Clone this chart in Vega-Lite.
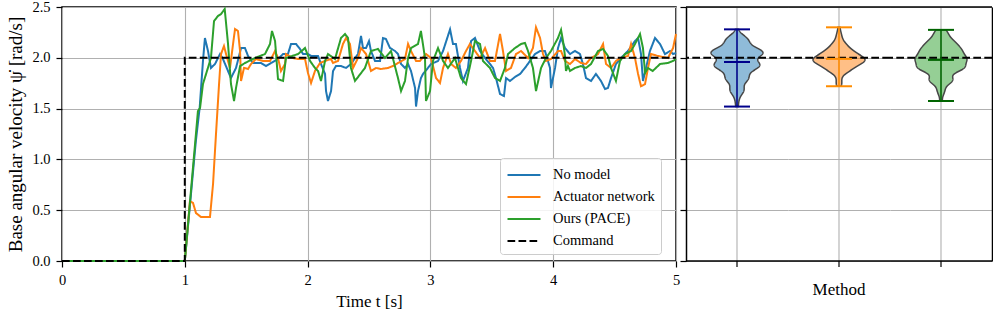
{
  "$schema": "https://vega.github.io/schema/vega-lite/v6.json",
  "background": "white",
  "padding": {"left": 6, "top": -2, "right": 0, "bottom": 2},
  "datasets": {
    "series": [
      {"m":"No model","t":0,"v":0},{"m":"No model","t":1.0,"v":0},{"m":"No model","t":1.09,"v":1.18},{"m":"No model","t":1.121,"v":1.506},{"m":"No model","t":1.148,"v":1.969},{"m":"No model","t":1.164,"v":2.195},{"m":"No model","t":1.189,"v":2.067},{"m":"No model","t":1.213,"v":1.9},{"m":"No model","t":1.246,"v":1.939},{"m":"No model","t":1.287,"v":2.037},{"m":"No model","t":1.311,"v":1.988},{"m":"No model","t":1.352,"v":1.87},{"m":"No model","t":1.376,"v":1.801},{"m":"No model","t":1.417,"v":1.9},{"m":"No model","t":1.458,"v":2.096},{"m":"No model","t":1.49,"v":2.096},{"m":"No model","t":1.515,"v":2.018},{"m":"No model","t":1.555,"v":1.949},{"m":"No model","t":1.621,"v":1.949},{"m":"No model","t":1.661,"v":1.919},{"m":"No model","t":1.702,"v":1.949},{"m":"No model","t":1.759,"v":1.988},{"m":"No model","t":1.8,"v":2.037},{"m":"No model","t":1.84,"v":2.037},{"m":"No model","t":1.865,"v":2.136},{"m":"No model","t":1.906,"v":2.136},{"m":"No model","t":1.938,"v":2.087},{"m":"No model","t":1.963,"v":2.037},{"m":"No model","t":2.003,"v":2.037},{"m":"No model","t":2.028,"v":2.018},{"m":"No model","t":2.085,"v":2.018},{"m":"No model","t":2.109,"v":1.939},{"m":"No model","t":2.142,"v":1.841},{"m":"No model","t":2.15,"v":1.673},{"m":"No model","t":2.166,"v":1.575},{"m":"No model","t":2.191,"v":1.673},{"m":"No model","t":2.207,"v":1.87},{"m":"No model","t":2.231,"v":1.919},{"m":"No model","t":2.272,"v":1.919},{"m":"No model","t":2.313,"v":1.9},{"m":"No model","t":2.353,"v":1.939},{"m":"No model","t":2.41,"v":2.037},{"m":"No model","t":2.435,"v":2.215},{"m":"No model","t":2.451,"v":2.096},{"m":"No model","t":2.476,"v":2.096},{"m":"No model","t":2.5,"v":2.165},{"m":"No model","t":2.516,"v":2.067},{"m":"No model","t":2.549,"v":1.969},{"m":"No model","t":2.59,"v":1.969},{"m":"No model","t":2.614,"v":2.195},{"m":"No model","t":2.638,"v":2.185},{"m":"No model","t":2.671,"v":2.096},{"m":"No model","t":2.712,"v":2.067},{"m":"No model","t":2.736,"v":2.037},{"m":"No model","t":2.761,"v":1.939},{"m":"No model","t":2.793,"v":1.9},{"m":"No model","t":2.818,"v":1.939},{"m":"No model","t":2.842,"v":1.87},{"m":"No model","t":2.875,"v":1.703},{"m":"No model","t":2.883,"v":1.52},{"m":"No model","t":2.899,"v":1.673},{"m":"No model","t":2.923,"v":1.801},{"m":"No model","t":2.94,"v":1.841},{"m":"No model","t":2.98,"v":1.9},{"m":"No model","t":3.005,"v":1.939},{"m":"No model","t":3.062,"v":1.969},{"m":"No model","t":3.103,"v":2.067},{"m":"No model","t":3.16,"v":2.28},{"m":"No model","t":3.184,"v":2.136},{"m":"No model","t":3.208,"v":2.136},{"m":"No model","t":3.241,"v":1.9},{"m":"No model","t":3.265,"v":1.772},{"m":"No model","t":3.306,"v":1.9},{"m":"No model","t":3.331,"v":2.165},{"m":"No model","t":3.363,"v":2.195},{"m":"No model","t":3.404,"v":2.067},{"m":"No model","t":3.445,"v":1.998},{"m":"No model","t":3.485,"v":1.939},{"m":"No model","t":3.51,"v":1.9},{"m":"No model","t":3.534,"v":1.801},{"m":"No model","t":3.567,"v":1.644},{"m":"No model","t":3.599,"v":1.624},{"m":"No model","t":3.616,"v":1.801},{"m":"No model","t":3.648,"v":1.772},{"m":"No model","t":3.689,"v":1.811},{"m":"No model","t":3.73,"v":1.841},{"m":"No model","t":3.77,"v":1.9},{"m":"No model","t":3.811,"v":1.969},{"m":"No model","t":3.852,"v":2.037},{"m":"No model","t":3.893,"v":2.067},{"m":"No model","t":3.933,"v":2.067},{"m":"No model","t":3.974,"v":1.9},{"m":"No model","t":3.982,"v":1.703},{"m":"No model","t":4.015,"v":1.9},{"m":"No model","t":4.039,"v":2.096},{"m":"No model","t":4.064,"v":2.195},{"m":"No model","t":4.096,"v":2.096},{"m":"No model","t":4.137,"v":2.037},{"m":"No model","t":4.178,"v":2.067},{"m":"No model","t":4.218,"v":2.037},{"m":"No model","t":4.242,"v":1.939},{"m":"No model","t":4.267,"v":1.801},{"m":"No model","t":4.308,"v":1.772},{"m":"No model","t":4.348,"v":1.841},{"m":"No model","t":4.389,"v":1.772},{"m":"No model","t":4.422,"v":1.693},{"m":"No model","t":4.446,"v":1.703},{"m":"No model","t":4.471,"v":1.801},{"m":"No model","t":4.511,"v":1.939},{"m":"No model","t":4.552,"v":1.998},{"m":"No model","t":4.609,"v":2.067},{"m":"No model","t":4.666,"v":2.165},{"m":"No model","t":4.691,"v":2.195},{"m":"No model","t":4.715,"v":2.037},{"m":"No model","t":4.731,"v":1.772},{"m":"No model","t":4.756,"v":1.9},{"m":"No model","t":4.788,"v":2.067},{"m":"No model","t":4.829,"v":2.195},{"m":"No model","t":4.87,"v":2.136},{"m":"No model","t":4.91,"v":2.037},{"m":"No model","t":4.951,"v":2.067},{"m":"No model","t":4.976,"v":2.037},{"m":"No model","t":5.0,"v":2.047},

      {"m":"Actuator network","t":0,"v":0},{"m":"Actuator network","t":1.0,"v":0},{"m":"Actuator network","t":1.042,"v":0.591},{"m":"Actuator network","t":1.067,"v":0.571},{"m":"Actuator network","t":1.091,"v":0.472},{"m":"Actuator network","t":1.132,"v":0.433},{"m":"Actuator network","t":1.205,"v":0.433},{"m":"Actuator network","t":1.23,"v":0.758},{"m":"Actuator network","t":1.254,"v":1.25},{"m":"Actuator network","t":1.279,"v":1.742},{"m":"Actuator network","t":1.295,"v":2.037},{"m":"Actuator network","t":1.319,"v":2.116},{"m":"Actuator network","t":1.336,"v":2.037},{"m":"Actuator network","t":1.368,"v":1.9},{"m":"Actuator network","t":1.393,"v":2.136},{"m":"Actuator network","t":1.409,"v":2.283},{"m":"Actuator network","t":1.433,"v":2.264},{"m":"Actuator network","t":1.45,"v":2.067},{"m":"Actuator network","t":1.458,"v":1.772},{"m":"Actuator network","t":1.482,"v":1.9},{"m":"Actuator network","t":1.515,"v":1.89},{"m":"Actuator network","t":1.539,"v":1.939},{"m":"Actuator network","t":1.58,"v":1.988},{"m":"Actuator network","t":1.637,"v":1.969},{"m":"Actuator network","t":1.694,"v":1.969},{"m":"Actuator network","t":1.735,"v":2.067},{"m":"Actuator network","t":1.759,"v":1.998},{"m":"Actuator network","t":1.783,"v":1.87},{"m":"Actuator network","t":1.816,"v":1.939},{"m":"Actuator network","t":1.824,"v":2.037},{"m":"Actuator network","t":1.881,"v":1.998},{"m":"Actuator network","t":1.922,"v":1.988},{"m":"Actuator network","t":1.979,"v":1.988},{"m":"Actuator network","t":2.003,"v":1.85},{"m":"Actuator network","t":2.028,"v":1.752},{"m":"Actuator network","t":2.06,"v":1.87},{"m":"Actuator network","t":2.101,"v":1.949},{"m":"Actuator network","t":2.142,"v":1.969},{"m":"Actuator network","t":2.191,"v":1.988},{"m":"Actuator network","t":2.207,"v":1.949},{"m":"Actuator network","t":2.248,"v":1.969},{"m":"Actuator network","t":2.288,"v":2.136},{"m":"Actuator network","t":2.313,"v":2.195},{"m":"Actuator network","t":2.345,"v":2.136},{"m":"Actuator network","t":2.37,"v":1.9},{"m":"Actuator network","t":2.41,"v":1.998},{"m":"Actuator network","t":2.435,"v":2.096},{"m":"Actuator network","t":2.476,"v":2.037},{"m":"Actuator network","t":2.516,"v":1.87},{"m":"Actuator network","t":2.557,"v":1.9},{"m":"Actuator network","t":2.598,"v":1.89},{"m":"Actuator network","t":2.655,"v":1.9},{"m":"Actuator network","t":2.695,"v":1.919},{"m":"Actuator network","t":2.736,"v":1.949},{"m":"Actuator network","t":2.793,"v":1.988},{"m":"Actuator network","t":2.818,"v":2.136},{"m":"Actuator network","t":2.842,"v":2.067},{"m":"Actuator network","t":2.883,"v":1.969},{"m":"Actuator network","t":2.915,"v":1.969},{"m":"Actuator network","t":2.964,"v":2.037},{"m":"Actuator network","t":3.005,"v":1.998},{"m":"Actuator network","t":3.046,"v":1.801},{"m":"Actuator network","t":3.078,"v":1.752},{"m":"Actuator network","t":3.103,"v":1.9},{"m":"Actuator network","t":3.143,"v":2.037},{"m":"Actuator network","t":3.168,"v":1.939},{"m":"Actuator network","t":3.208,"v":1.9},{"m":"Actuator network","t":3.249,"v":1.969},{"m":"Actuator network","t":3.29,"v":2.067},{"m":"Actuator network","t":3.322,"v":2.136},{"m":"Actuator network","t":3.363,"v":2.067},{"m":"Actuator network","t":3.404,"v":1.998},{"m":"Actuator network","t":3.445,"v":2.096},{"m":"Actuator network","t":3.485,"v":1.969},{"m":"Actuator network","t":3.526,"v":1.969},{"m":"Actuator network","t":3.567,"v":2.234},{"m":"Actuator network","t":3.591,"v":2.067},{"m":"Actuator network","t":3.616,"v":1.87},{"m":"Actuator network","t":3.656,"v":1.9},{"m":"Actuator network","t":3.697,"v":2.037},{"m":"Actuator network","t":3.738,"v":2.067},{"m":"Actuator network","t":3.795,"v":1.998},{"m":"Actuator network","t":3.835,"v":2.096},{"m":"Actuator network","t":3.86,"v":2.3},{"m":"Actuator network","t":3.893,"v":2.195},{"m":"Actuator network","t":3.917,"v":2.037},{"m":"Actuator network","t":3.941,"v":1.969},{"m":"Actuator network","t":3.982,"v":1.988},{"m":"Actuator network","t":4.039,"v":2.067},{"m":"Actuator network","t":4.064,"v":2.067},{"m":"Actuator network","t":4.096,"v":1.969},{"m":"Actuator network","t":4.137,"v":1.939},{"m":"Actuator network","t":4.178,"v":1.988},{"m":"Actuator network","t":4.226,"v":1.949},{"m":"Actuator network","t":4.267,"v":1.939},{"m":"Actuator network","t":4.308,"v":1.998},{"m":"Actuator network","t":4.365,"v":2.037},{"m":"Actuator network","t":4.406,"v":2.136},{"m":"Actuator network","t":4.43,"v":1.939},{"m":"Actuator network","t":4.471,"v":1.9},{"m":"Actuator network","t":4.511,"v":1.969},{"m":"Actuator network","t":4.552,"v":1.998},{"m":"Actuator network","t":4.609,"v":2.018},{"m":"Actuator network","t":4.634,"v":2.136},{"m":"Actuator network","t":4.666,"v":1.998},{"m":"Actuator network","t":4.691,"v":1.841},{"m":"Actuator network","t":4.715,"v":1.72},{"m":"Actuator network","t":4.748,"v":1.742},{"m":"Actuator network","t":4.772,"v":1.9},{"m":"Actuator network","t":4.796,"v":2.037},{"m":"Actuator network","t":4.853,"v":2.018},{"m":"Actuator network","t":4.935,"v":1.998},{"m":"Actuator network","t":4.976,"v":2.096},{"m":"Actuator network","t":5.0,"v":2.234},

      {"m":"Ours (PACE)","t":0,"v":0},{"m":"Ours (PACE)","t":1.0,"v":0},{"m":"Ours (PACE)","t":1.107,"v":1.476},{"m":"Ours (PACE)","t":1.124,"v":1.506},{"m":"Ours (PACE)","t":1.148,"v":1.742},{"m":"Ours (PACE)","t":1.213,"v":1.998},{"m":"Ours (PACE)","t":1.238,"v":2.362},{"m":"Ours (PACE)","t":1.27,"v":2.411},{"m":"Ours (PACE)","t":1.295,"v":2.431},{"m":"Ours (PACE)","t":1.325,"v":2.48},{"m":"Ours (PACE)","t":1.352,"v":2.136},{"m":"Ours (PACE)","t":1.376,"v":1.742},{"m":"Ours (PACE)","t":1.401,"v":1.575},{"m":"Ours (PACE)","t":1.417,"v":1.703},{"m":"Ours (PACE)","t":1.45,"v":1.919},{"m":"Ours (PACE)","t":1.49,"v":1.949},{"m":"Ours (PACE)","t":1.572,"v":1.998},{"m":"Ours (PACE)","t":1.653,"v":2.037},{"m":"Ours (PACE)","t":1.694,"v":2.136},{"m":"Ours (PACE)","t":1.71,"v":2.264},{"m":"Ours (PACE)","t":1.735,"v":2.165},{"m":"Ours (PACE)","t":1.759,"v":1.791},{"m":"Ours (PACE)","t":1.8,"v":1.772},{"m":"Ours (PACE)","t":1.824,"v":1.998},{"m":"Ours (PACE)","t":1.922,"v":2.037},{"m":"Ours (PACE)","t":1.979,"v":2.096},{"m":"Ours (PACE)","t":2.02,"v":1.969},{"m":"Ours (PACE)","t":2.06,"v":1.9},{"m":"Ours (PACE)","t":2.085,"v":1.87},{"m":"Ours (PACE)","t":2.109,"v":1.772},{"m":"Ours (PACE)","t":2.142,"v":1.969},{"m":"Ours (PACE)","t":2.166,"v":2.037},{"m":"Ours (PACE)","t":2.223,"v":1.988},{"m":"Ours (PACE)","t":2.272,"v":2.195},{"m":"Ours (PACE)","t":2.305,"v":2.234},{"m":"Ours (PACE)","t":2.329,"v":2.195},{"m":"Ours (PACE)","t":2.353,"v":1.9},{"m":"Ours (PACE)","t":2.386,"v":1.772},{"m":"Ours (PACE)","t":2.467,"v":1.9},{"m":"Ours (PACE)","t":2.516,"v":2.067},{"m":"Ours (PACE)","t":2.573,"v":2.087},{"m":"Ours (PACE)","t":2.63,"v":1.998},{"m":"Ours (PACE)","t":2.679,"v":2.067},{"m":"Ours (PACE)","t":2.736,"v":1.801},{"m":"Ours (PACE)","t":2.761,"v":1.673},{"m":"Ours (PACE)","t":2.793,"v":1.772},{"m":"Ours (PACE)","t":2.818,"v":1.998},{"m":"Ours (PACE)","t":2.842,"v":2.096},{"m":"Ours (PACE)","t":2.899,"v":2.136},{"m":"Ours (PACE)","t":2.923,"v":2.264},{"m":"Ours (PACE)","t":2.956,"v":1.998},{"m":"Ours (PACE)","t":2.964,"v":1.575},{"m":"Ours (PACE)","t":2.997,"v":1.673},{"m":"Ours (PACE)","t":3.021,"v":1.969},{"m":"Ours (PACE)","t":3.062,"v":2.096},{"m":"Ours (PACE)","t":3.103,"v":1.969},{"m":"Ours (PACE)","t":3.143,"v":1.9},{"m":"Ours (PACE)","t":3.2,"v":1.998},{"m":"Ours (PACE)","t":3.249,"v":1.801},{"m":"Ours (PACE)","t":3.29,"v":1.742},{"m":"Ours (PACE)","t":3.331,"v":1.969},{"m":"Ours (PACE)","t":3.363,"v":2.165},{"m":"Ours (PACE)","t":3.404,"v":2.136},{"m":"Ours (PACE)","t":3.428,"v":1.969},{"m":"Ours (PACE)","t":3.485,"v":1.9},{"m":"Ours (PACE)","t":3.526,"v":1.801},{"m":"Ours (PACE)","t":3.567,"v":1.772},{"m":"Ours (PACE)","t":3.607,"v":1.9},{"m":"Ours (PACE)","t":3.632,"v":2.037},{"m":"Ours (PACE)","t":3.689,"v":2.096},{"m":"Ours (PACE)","t":3.738,"v":2.136},{"m":"Ours (PACE)","t":3.77,"v":2.146},{"m":"Ours (PACE)","t":3.795,"v":2.067},{"m":"Ours (PACE)","t":3.835,"v":1.9},{"m":"Ours (PACE)","t":3.86,"v":1.673},{"m":"Ours (PACE)","t":3.901,"v":1.9},{"m":"Ours (PACE)","t":3.941,"v":1.998},{"m":"Ours (PACE)","t":3.982,"v":2.067},{"m":"Ours (PACE)","t":4.039,"v":2.195},{"m":"Ours (PACE)","t":4.064,"v":2.275},{"m":"Ours (PACE)","t":4.08,"v":2.165},{"m":"Ours (PACE)","t":4.096,"v":2.018},{"m":"Ours (PACE)","t":4.104,"v":1.87},{"m":"Ours (PACE)","t":4.12,"v":1.92},{"m":"Ours (PACE)","t":4.137,"v":1.87},{"m":"Ours (PACE)","t":4.178,"v":1.9},{"m":"Ours (PACE)","t":4.226,"v":1.919},{"m":"Ours (PACE)","t":4.267,"v":1.9},{"m":"Ours (PACE)","t":4.308,"v":1.939},{"m":"Ours (PACE)","t":4.365,"v":2.067},{"m":"Ours (PACE)","t":4.406,"v":2.087},{"m":"Ours (PACE)","t":4.446,"v":2.018},{"m":"Ours (PACE)","t":4.471,"v":1.9},{"m":"Ours (PACE)","t":4.511,"v":1.772},{"m":"Ours (PACE)","t":4.544,"v":1.969},{"m":"Ours (PACE)","t":4.585,"v":2.037},{"m":"Ours (PACE)","t":4.634,"v":2.067},{"m":"Ours (PACE)","t":4.666,"v":2.136},{"m":"Ours (PACE)","t":4.707,"v":2.234},{"m":"Ours (PACE)","t":4.731,"v":2.096},{"m":"Ours (PACE)","t":4.748,"v":1.85},{"m":"Ours (PACE)","t":4.772,"v":1.9},{"m":"Ours (PACE)","t":4.81,"v":1.87},{"m":"Ours (PACE)","t":4.87,"v":1.939},{"m":"Ours (PACE)","t":4.935,"v":1.949},{"m":"Ours (PACE)","t":4.976,"v":1.969},{"m":"Ours (PACE)","t":5.0,"v":1.988}
    ],
    "cmd": [
      {"m":"Command","t":0,"v":0,"i":0},{"m":"Command","t":1,"v":0,"i":1},{"m":"Command","t":1,"v":2,"i":2},{"m":"Command","t":5,"v":2,"i":3}
    ],
    "one": [{"k":1}]
  },
  "hconcat": [
    {
      "width": 614,
      "height": 254,
      "view": {"stroke": "black", "strokeWidth": 1.5},
      "layer": [
        {
          "data": {"name": "series"},
          "mark": {"type": "line", "strokeWidth": 2},
          "encoding": {
            "x": {"field": "t", "type": "quantitative", "scale": {"domain": [0, 5], "nice": false},
                  "axis": {"values": [0,1,2,3,4,5], "format": "d", "title": "Time t [s]", "domain": false, "labelFlush": false, "titlePadding": 7}},
            "y": {"field": "v", "type": "quantitative", "scale": {"domain": [0, 2.5], "nice": false},
                  "axis": {"values": [0,0.5,1,1.5,2,2.5], "format": ".1f", "title": "Base angular velocity ψ̇ [rad/s]", "titleFontSize": 19, "domain": false, "titlePadding": 6}},
            "color": {"field": "m", "type": "nominal",
                      "scale": {"domain": ["No model","Actuator network","Ours (PACE)","Command"], "range": ["#1f77b4","#ff7f0e","#2ca02c","#000000"]},
                      "legend": {"title": null, "orient": "none", "legendX": 438, "legendY": 151}},
            "strokeDash": {"field": "m", "type": "nominal",
                      "scale": {"domain": ["No model","Actuator network","Ours (PACE)","Command"], "range": [[1,0],[1,0],[1,0],[7.7,3.3]]},
                      "legend": {"title": null, "orient": "none", "legendX": 438, "legendY": 151}}
          }
        },
        {
          "data": {"name": "cmd"},
          "mark": {"type": "line", "strokeWidth": 2},
          "encoding": {
            "x": {"field": "t", "type": "quantitative"},
            "y": {"field": "v", "type": "quantitative"},
            "order": {"field": "i", "type": "quantitative"},
            "color": {"field": "m", "type": "nominal"},
            "strokeDash": {"field": "m", "type": "nominal"}
          }
        }
      ]
    },
    {
      "hconcat": [
        {
          "width": 102, "height": 254,
          "data": {"name": "series"},
          "transform": [{"filter": "datum.m == 'No model' && datum.t >= 1.5"}],
          "layer": [
            {"data": {"name": "one"}, "mark": {"type": "rule", "color": "#b0b0b0", "strokeWidth": 1.1},
             "encoding": {"y": {"datum": 0, "type": "quantitative", "scale": {"domain": [0, 2.5], "nice": false}, "axis": {"values": [0,0.5,1,1.5,2,2.5], "labels": false, "title": null, "domain": true, "ticks": true, "grid": true}}, "y2": {"datum": 2.5}}},
            {
              "transform": [
                {"joinaggregate": [{"op": "min", "field": "v", "as": "lo"}, {"op": "max", "field": "v", "as": "hi"}]},
                {"density": "v", "groupby": ["lo", "hi"], "bandwidth": 0.04, "extent": [1.4, 2.4], "steps": 400},
                {"filter": "datum.value >= datum.lo && datum.value <= datum.hi"}
              ],
              "mark": {"type": "area", "orient": "horizontal", "fill": "#1f77b4", "fillOpacity": 0.5, "stroke": "#474747", "strokeWidth": 1.5},
              "encoding": {
                "y": {"field": "value", "type": "quantitative", "scale": {"domain": [0, 2.5], "nice": false},
                      "axis": {"values": [0,0.5,1,1.5,2,2.5], "labels": false, "title": null, "domain": true, "ticks": true, "grid": true}},
                "x": {"field": "density", "type": "quantitative", "stack": "center", "scale": {"padding": 25, "nice": false, "zero": false}, "axis": null}
              }
            },
            {"data": {"name": "one"}, "mark": {"type": "rule", "color": "black", "strokeWidth": 2, "strokeDash": [7.7, 3.3]},
             "encoding": {"y": {"datum": 2, "type": "quantitative", "scale": {"domain": [0, 2.5], "nice": false}, "axis": {"values": [0,0.5,1,1.5,2,2.5], "labels": false, "title": null, "domain": true, "ticks": true, "grid": true}}}},
            {"mark": {"type": "rule", "color": "#00008b", "strokeWidth": 1.5},
             "encoding": {"y": {"aggregate": "min", "field": "v", "type": "quantitative", "scale": {"domain": [0, 2.5], "nice": false}, "axis": {"values": [0,0.5,1,1.5,2,2.5], "labels": false, "title": null, "domain": true, "ticks": true, "grid": true}}, "y2": {"aggregate": "max", "field": "v"}}},
            {"mark": {"type": "tick", "orient": "horizontal", "color": "#00008b", "size": 26, "thickness": 2},
             "encoding": {"y": {"aggregate": "min", "field": "v", "type": "quantitative", "scale": {"domain": [0, 2.5], "nice": false}, "axis": {"values": [0,0.5,1,1.5,2,2.5], "labels": false, "title": null, "domain": true, "ticks": true, "grid": true}}}},
            {"mark": {"type": "tick", "orient": "horizontal", "color": "#00008b", "size": 26, "thickness": 2},
             "encoding": {"y": {"aggregate": "max", "field": "v", "type": "quantitative", "scale": {"domain": [0, 2.5], "nice": false}, "axis": {"values": [0,0.5,1,1.5,2,2.5], "labels": false, "title": null, "domain": true, "ticks": true, "grid": true}}}},
            {"mark": {"type": "tick", "orient": "horizontal", "color": "#00008b", "size": 26, "thickness": 2},
             "encoding": {"y": {"aggregate": "mean", "field": "v", "type": "quantitative", "scale": {"domain": [0, 2.5], "nice": false}, "axis": {"values": [0,0.5,1,1.5,2,2.5], "labels": false, "title": null, "domain": true, "ticks": true, "grid": true}}}},
            {"data": {"name": "one"}, "mark": {"type": "rule", "color": "black", "strokeWidth": 1.5},
             "encoding": {"y": {"datum": 2.5, "type": "quantitative", "scale": {"domain": [0, 2.5], "nice": false}, "axis": {"values": [0,0.5,1,1.5,2,2.5], "labels": false, "title": null, "domain": true, "ticks": true, "grid": true}}}},
            {"data": {"name": "one"}, "mark": {"type": "rule", "color": "black", "strokeWidth": 1.5},
             "encoding": {"y": {"datum": 0, "type": "quantitative", "scale": {"domain": [0, 2.5], "nice": false}, "axis": {"values": [0,0.5,1,1.5,2,2.5], "labels": false, "title": null, "domain": true, "ticks": true, "grid": true}}}},
            {"data": {"name": "one"}, "mark": {"type": "rule", "color": "black", "strokeWidth": 1.2},
             "encoding": {"y": {"datum": 0, "type": "quantitative", "scale": {"domain": [0, 2.5], "nice": false}, "axis": {"values": [0,0.5,1,1.5,2,2.5], "labels": false, "title": null, "domain": true, "ticks": true, "grid": true}}, "y2": {"datum": -0.059}}}
          ]
        },
        {
          "width": 102, "height": 254,
          "title": {"text": "Method", "orient": "bottom", "fontSize": 17, "fontWeight": "normal", "font": "Liberation Serif", "color": "black", "offset": 14},
          "data": {"name": "series"},
          "transform": [{"filter": "datum.m == 'Actuator network' && datum.t >= 1.5"}],
          "layer": [
            {"data": {"name": "one"}, "mark": {"type": "rule", "color": "#b0b0b0", "strokeWidth": 1.1},
             "encoding": {"y": {"datum": 0, "type": "quantitative", "scale": {"domain": [0, 2.5], "nice": false}, "axis": {"values": [0,0.5,1,1.5,2,2.5], "labels": false, "title": null, "domain": false, "ticks": false, "grid": true}}, "y2": {"datum": 2.5}}},
            {
              "transform": [
                {"joinaggregate": [{"op": "min", "field": "v", "as": "lo"}, {"op": "max", "field": "v", "as": "hi"}]},
                {"density": "v", "groupby": ["lo", "hi"], "bandwidth": 0.04, "extent": [1.4, 2.4], "steps": 400},
                {"filter": "datum.value >= datum.lo && datum.value <= datum.hi"}
              ],
              "mark": {"type": "area", "orient": "horizontal", "fill": "#ff7f0e", "fillOpacity": 0.5, "stroke": "#474747", "strokeWidth": 1.5},
              "encoding": {
                "y": {"field": "value", "type": "quantitative", "scale": {"domain": [0, 2.5], "nice": false},
                      "axis": {"values": [0,0.5,1,1.5,2,2.5], "labels": false, "title": null, "domain": false, "ticks": false, "grid": true}},
                "x": {"field": "density", "type": "quantitative", "stack": "center", "scale": {"padding": 25, "nice": false, "zero": false}, "axis": null}
              }
            },
            {"data": {"name": "one"}, "mark": {"type": "rule", "color": "black", "strokeWidth": 2, "strokeDash": [7.7, 3.3]},
             "encoding": {"y": {"datum": 2, "type": "quantitative", "scale": {"domain": [0, 2.5], "nice": false}, "axis": {"values": [0,0.5,1,1.5,2,2.5], "labels": false, "title": null, "domain": false, "ticks": false, "grid": true}}}},
            {"mark": {"type": "rule", "color": "#ff8c00", "strokeWidth": 1.5},
             "encoding": {"y": {"aggregate": "min", "field": "v", "type": "quantitative", "scale": {"domain": [0, 2.5], "nice": false}, "axis": {"values": [0,0.5,1,1.5,2,2.5], "labels": false, "title": null, "domain": false, "ticks": false, "grid": true}}, "y2": {"aggregate": "max", "field": "v"}}},
            {"mark": {"type": "tick", "orient": "horizontal", "color": "#ff8c00", "size": 26, "thickness": 2},
             "encoding": {"y": {"aggregate": "min", "field": "v", "type": "quantitative", "scale": {"domain": [0, 2.5], "nice": false}, "axis": {"values": [0,0.5,1,1.5,2,2.5], "labels": false, "title": null, "domain": false, "ticks": false, "grid": true}}}},
            {"mark": {"type": "tick", "orient": "horizontal", "color": "#ff8c00", "size": 26, "thickness": 2},
             "encoding": {"y": {"aggregate": "max", "field": "v", "type": "quantitative", "scale": {"domain": [0, 2.5], "nice": false}, "axis": {"values": [0,0.5,1,1.5,2,2.5], "labels": false, "title": null, "domain": false, "ticks": false, "grid": true}}}},
            {"mark": {"type": "tick", "orient": "horizontal", "color": "#ff8c00", "size": 26, "thickness": 2},
             "encoding": {"y": {"aggregate": "mean", "field": "v", "type": "quantitative", "scale": {"domain": [0, 2.5], "nice": false}, "axis": {"values": [0,0.5,1,1.5,2,2.5], "labels": false, "title": null, "domain": false, "ticks": false, "grid": true}}}},
            {"data": {"name": "one"}, "mark": {"type": "rule", "color": "black", "strokeWidth": 1.5},
             "encoding": {"y": {"datum": 2.5, "type": "quantitative", "scale": {"domain": [0, 2.5], "nice": false}, "axis": {"values": [0,0.5,1,1.5,2,2.5], "labels": false, "title": null, "domain": false, "ticks": false, "grid": true}}}},
            {"data": {"name": "one"}, "mark": {"type": "rule", "color": "black", "strokeWidth": 1.5},
             "encoding": {"y": {"datum": 0, "type": "quantitative", "scale": {"domain": [0, 2.5], "nice": false}, "axis": {"values": [0,0.5,1,1.5,2,2.5], "labels": false, "title": null, "domain": false, "ticks": false, "grid": true}}}},
            {"data": {"name": "one"}, "mark": {"type": "rule", "color": "black", "strokeWidth": 1.2},
             "encoding": {"y": {"datum": 0, "type": "quantitative", "scale": {"domain": [0, 2.5], "nice": false}, "axis": {"values": [0,0.5,1,1.5,2,2.5], "labels": false, "title": null, "domain": false, "ticks": false, "grid": true}}, "y2": {"datum": -0.059}}}
          ]
        },
        {
          "width": 102, "height": 254,
          "data": {"name": "series"},
          "transform": [{"filter": "datum.m == 'Ours (PACE)' && datum.t >= 1.5"}],
          "layer": [
            {"data": {"name": "one"}, "mark": {"type": "rule", "color": "#b0b0b0", "strokeWidth": 1.1},
             "encoding": {"y": {"datum": 0, "type": "quantitative", "scale": {"domain": [0, 2.5], "nice": false}, "axis": {"orient": "right", "values": [0,0.5,1,1.5,2,2.5], "labels": false, "title": null, "domain": true, "ticks": false, "grid": true}}, "y2": {"datum": 2.5}}},
            {
              "transform": [
                {"joinaggregate": [{"op": "min", "field": "v", "as": "lo"}, {"op": "max", "field": "v", "as": "hi"}]},
                {"density": "v", "groupby": ["lo", "hi"], "bandwidth": 0.04, "extent": [1.4, 2.4], "steps": 400},
                {"filter": "datum.value >= datum.lo && datum.value <= datum.hi"}
              ],
              "mark": {"type": "area", "orient": "horizontal", "fill": "#2ca02c", "fillOpacity": 0.5, "stroke": "#474747", "strokeWidth": 1.5},
              "encoding": {
                "y": {"field": "value", "type": "quantitative", "scale": {"domain": [0, 2.5], "nice": false},
                      "axis": {"orient": "right", "values": [0,0.5,1,1.5,2,2.5], "labels": false, "title": null, "domain": true, "ticks": false, "grid": true}},
                "x": {"field": "density", "type": "quantitative", "stack": "center", "scale": {"padding": 25, "nice": false, "zero": false}, "axis": null}
              }
            },
            {"data": {"name": "one"}, "mark": {"type": "rule", "color": "black", "strokeWidth": 2, "strokeDash": [7.7, 3.3]},
             "encoding": {"y": {"datum": 2, "type": "quantitative", "scale": {"domain": [0, 2.5], "nice": false}, "axis": {"orient": "right", "values": [0,0.5,1,1.5,2,2.5], "labels": false, "title": null, "domain": true, "ticks": false, "grid": true}}}},
            {"mark": {"type": "rule", "color": "#006400", "strokeWidth": 1.5},
             "encoding": {"y": {"aggregate": "min", "field": "v", "type": "quantitative", "scale": {"domain": [0, 2.5], "nice": false}, "axis": {"orient": "right", "values": [0,0.5,1,1.5,2,2.5], "labels": false, "title": null, "domain": true, "ticks": false, "grid": true}}, "y2": {"aggregate": "max", "field": "v"}}},
            {"mark": {"type": "tick", "orient": "horizontal", "color": "#006400", "size": 26, "thickness": 2},
             "encoding": {"y": {"aggregate": "min", "field": "v", "type": "quantitative", "scale": {"domain": [0, 2.5], "nice": false}, "axis": {"orient": "right", "values": [0,0.5,1,1.5,2,2.5], "labels": false, "title": null, "domain": true, "ticks": false, "grid": true}}}},
            {"mark": {"type": "tick", "orient": "horizontal", "color": "#006400", "size": 26, "thickness": 2},
             "encoding": {"y": {"aggregate": "max", "field": "v", "type": "quantitative", "scale": {"domain": [0, 2.5], "nice": false}, "axis": {"orient": "right", "values": [0,0.5,1,1.5,2,2.5], "labels": false, "title": null, "domain": true, "ticks": false, "grid": true}}}},
            {"mark": {"type": "tick", "orient": "horizontal", "color": "#006400", "size": 26, "thickness": 2},
             "encoding": {"y": {"aggregate": "mean", "field": "v", "type": "quantitative", "scale": {"domain": [0, 2.5], "nice": false}, "axis": {"orient": "right", "values": [0,0.5,1,1.5,2,2.5], "labels": false, "title": null, "domain": true, "ticks": false, "grid": true}}}},
            {"data": {"name": "one"}, "mark": {"type": "rule", "color": "black", "strokeWidth": 1.5},
             "encoding": {"y": {"datum": 2.5, "type": "quantitative", "scale": {"domain": [0, 2.5], "nice": false}, "axis": {"orient": "right", "values": [0,0.5,1,1.5,2,2.5], "labels": false, "title": null, "domain": true, "ticks": false, "grid": true}}}},
            {"data": {"name": "one"}, "mark": {"type": "rule", "color": "black", "strokeWidth": 1.5},
             "encoding": {"y": {"datum": 0, "type": "quantitative", "scale": {"domain": [0, 2.5], "nice": false}, "axis": {"orient": "right", "values": [0,0.5,1,1.5,2,2.5], "labels": false, "title": null, "domain": true, "ticks": false, "grid": true}}}},
            {"data": {"name": "one"}, "mark": {"type": "rule", "color": "black", "strokeWidth": 1.2},
             "encoding": {"y": {"datum": 0, "type": "quantitative", "scale": {"domain": [0, 2.5], "nice": false}, "axis": {"orient": "right", "values": [0,0.5,1,1.5,2,2.5], "labels": false, "title": null, "domain": true, "ticks": false, "grid": true}}, "y2": {"datum": -0.059}}}
          ]
        }
      ],
      "spacing": 0,
      "bounds": "flush",
      "resolve": {"scale": {"x": "independent", "y": "independent"}, "axis": {"x": "independent", "y": "independent"}}
    }
  ],
  "spacing": 10,
  "bounds": "flush",
  "resolve": {"scale": {"x": "independent", "y": "independent", "color": "independent", "strokeDash": "independent"}},
  "config": {
    "font": "Liberation Serif",
    "view": {"stroke": null},
    "axis": {
      "gridColor": "#b0b0b0", "gridWidth": 1.1, "gridOpacity": 1,
      "tickColor": "black", "tickWidth": 1.2, "tickSize": 6,
      "domainColor": "black", "domainWidth": 1.5,
      "labelColor": "black", "labelFont": "Liberation Serif", "labelFontSize": 14.5, "labelPadding": 6,
      "titleColor": "black", "titleFont": "Liberation Serif", "titleFontSize": 17, "titleFontWeight": "normal"
    },
    "legend": {
      "labelFont": "Liberation Serif", "labelFontSize": 14.5, "labelColor": "black",
      "symbolType": "M-1.65,0H1.65", "symbolStrokeWidth": 2, "symbolSize": 400, "symbolOffset": 7,
      "fillColor": "rgba(255,255,255,0.85)", "strokeColor": "#cccccc", "cornerRadius": 3,
      "padding": 6, "rowPadding": 4, "labelOffset": 18
    }
  }
}
